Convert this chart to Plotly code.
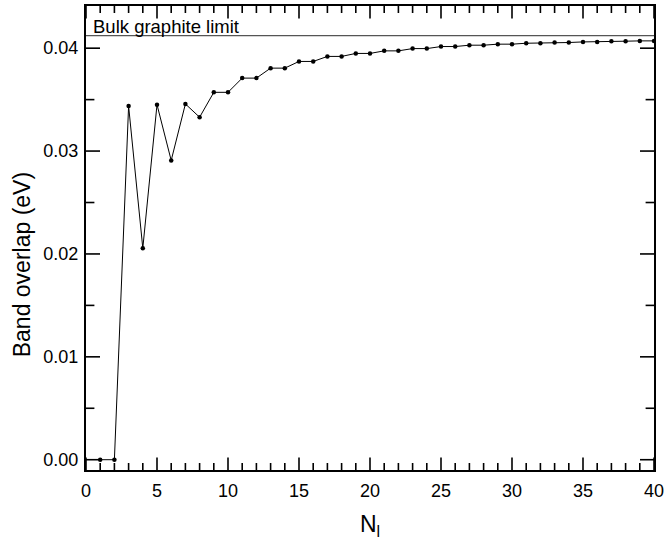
import plotly.graph_objects as go

n_layers = list(range(1, 41))
band_overlap = [0.0, 0.0, 0.03438, 0.02056, 0.03451, 0.02909, 0.03458, 0.03329,
                0.03571, 0.03571, 0.03709, 0.03709, 0.03806, 0.03806, 0.03871, 0.03871,
                0.03920, 0.03920, 0.03949, 0.03949, 0.03974, 0.03974, 0.03996, 0.03996,
                0.04016, 0.04016, 0.04029, 0.04029, 0.04039, 0.04039, 0.04048, 0.04048,
                0.04055, 0.04055, 0.04061, 0.04061, 0.04068, 0.04068, 0.04071, 0.04071]
bulk_limit = 0.04123
bulk_label = "Bulk graphite limit"
y_title = "Band overlap (eV)"
x_title = "N<sub>l</sub>"

x_range = [0, 40]
y_range = [-0.001, 0.0441]
x_major = list(range(0, 41, 5))
x_minor = [v for v in range(0, 41) if v % 5]
y_major = [0.0, 0.01, 0.02, 0.03, 0.04]
y_minor = [0.005, 0.015, 0.025, 0.035]

font = "Liberation Sans, Arial, sans-serif"
MAJ, MIN, TW = 9, 5, 1.6

fig = go.Figure()

# inside tick marks on all four sides, drawn as line markers centred on the frame
# (the outer half is clipped away by the plot area)
def tick_trace(xs, ys, symbol, length):
    return go.Scatter(
        x=xs, y=ys, mode="markers", cliponaxis=True, hoverinfo="skip", showlegend=False,
        marker=dict(symbol=symbol, size=2 * length, color="black",
                    line=dict(color="black", width=TW)),
    )

for vals, L in ((x_major, MAJ), (x_minor, MIN)):
    fig.add_trace(tick_trace(vals, [y_range[0]] * len(vals), "line-ns", L))
    fig.add_trace(tick_trace(vals, [y_range[1]] * len(vals), "line-ns", L))
for vals, L in ((y_major, MAJ + 1), (y_minor, MIN + 1)):
    fig.add_trace(tick_trace([x_range[0]] * len(vals), vals, "line-ew", L))
    fig.add_trace(tick_trace([x_range[1]] * len(vals), vals, "line-ew", L))

fig.add_trace(go.Scatter(
    x=n_layers, y=band_overlap, mode="lines+markers",
    line=dict(color="black", width=1),
    marker=dict(color="black", size=4.5),
    showlegend=False,
))
fig.add_shape(type="line", xref="paper", yref="y", x0=0, x1=1,
              y0=bulk_limit, y1=bulk_limit,
              line=dict(color="#555555", width=1.3))
fig.add_annotation(text=bulk_label, xref="paper", yref="y", x=0.008, y=bulk_limit,
                   xanchor="left", yanchor="bottom", showarrow=False,
                   font=dict(family=font, size=18.5, color="black"), yshift=-3)
fig.add_annotation(text=y_title, xref="paper", yref="paper", x=-0.112, y=0.442,
                   xanchor="center", yanchor="middle", textangle=-90, showarrow=False,
                   font=dict(family=font, size=23, color="black"))

fig.update_layout(
    width=668, height=543,
    margin=dict(l=86, r=10, t=4, b=73),
    plot_bgcolor="white", paper_bgcolor="white",
    xaxis=dict(
        range=x_range, tickvals=x_major,
        showgrid=False, zeroline=False, showline=True, linecolor="black", linewidth=2,
        mirror=True, ticks="", ticklabelstandoff=3, ticklabeloverflow="allow",
        tickfont=dict(family=font, size=18, color="black"),
        title=dict(text=x_title, font=dict(family=font, size=23, color="black"), standoff=16),
    ),
    yaxis=dict(
        range=y_range, tickvals=y_major, tickformat=".2f",
        showgrid=False, zeroline=False, showline=True, linecolor="black", linewidth=2,
        mirror=True, ticks="", ticklabelstandoff=2,
        tickfont=dict(family=font, size=18, color="black"),
    ),
)
fig.write_html("out.html")
